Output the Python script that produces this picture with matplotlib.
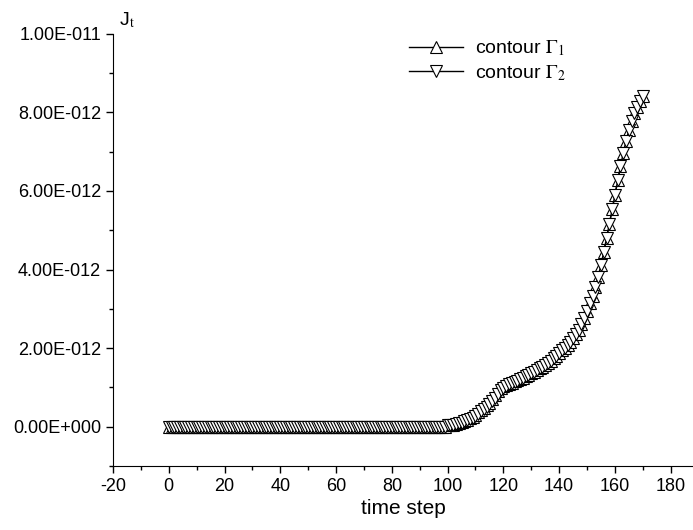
import numpy as np
import matplotlib
matplotlib.use("Agg")
import matplotlib.pyplot as plt
from matplotlib.ticker import MultipleLocator, FuncFormatter

plt.rcParams["font.family"] = ["Liberation Sans", "DejaVu Sans"]
plt.rcParams["mathtext.fontset"] = "stix"
plt.rcParams["axes.unicode_minus"] = False

# time steps 0..170, values in units of 1e-12
steps = np.arange(0, 171)

flat = [0.0] * 100
rise_g1 = [
    0.03, 0.04, 0.05, 0.07, 0.09, 0.11, 0.14, 0.17, 0.21, 0.25,
    0.30, 0.36, 0.42, 0.48, 0.54, 0.61, 0.70, 0.80, 0.90, 0.98,
    1.03, 1.06, 1.09, 1.12, 1.15, 1.18, 1.21, 1.24, 1.28, 1.32,
    1.36, 1.40, 1.44, 1.48, 1.53, 1.58, 1.63, 1.68, 1.74, 1.80,
    1.87, 1.94, 2.01, 2.08, 2.16, 2.25, 2.35, 2.47, 2.61, 2.77,
    2.95, 3.14, 3.33, 3.55, 3.82, 4.12, 4.45, 4.80, 5.16, 5.53,
    5.90, 6.27, 6.63, 6.97, 7.28, 7.55, 7.78, 7.98, 8.15, 8.29,
    8.41,
]
rise_g2 = [
    0.03, 0.04, 0.05, 0.06, 0.08, 0.10, 0.13, 0.16, 0.19, 0.23,
    0.28, 0.33, 0.39, 0.45, 0.51, 0.57, 0.64, 0.73, 0.83, 0.92,
    0.99, 1.04, 1.08, 1.11, 1.14, 1.17, 1.21, 1.24, 1.28, 1.32,
    1.36, 1.40, 1.44, 1.48, 1.53, 1.58, 1.63, 1.68, 1.74, 1.80,
    1.87, 1.94, 2.01, 2.08, 2.16, 2.25, 2.35, 2.47, 2.61, 2.77,
    2.95, 3.14, 3.33, 3.55, 3.82, 4.12, 4.45, 4.80, 5.16, 5.53,
    5.90, 6.27, 6.63, 6.97, 7.28, 7.55, 7.78, 7.98, 8.15, 8.29,
    8.41,
]
jt_g1 = np.array(flat + rise_g1) * 1e-12
jt_g2 = np.array(flat + rise_g2) * 1e-12


def sci_fmt(v, pos):
    if abs(v) < 1e-20:
        return "0.00E+000"
    exp = int(np.floor(np.log10(abs(v))))
    mant = v / 10 ** exp
    sign = "-" if exp < 0 else "+"
    return f"{mant:.2f}E{sign}{abs(exp):03d}"


fig = plt.figure(figsize=(6.93, 5.3), dpi=100)
ax = fig.add_axes([0.163, 0.121, 0.837, 0.815])

ax.plot(steps, jt_g1, color="black", lw=1, marker="^", ms=8.5,
        mfc="white", mec="black", mew=0.8, label=r"contour $\Gamma_{1}$")
ax.plot(steps, jt_g2, color="black", lw=1, marker="v", ms=8.5,
        mfc="white", mec="black", mew=0.8, label=r"contour $\Gamma_{2}$")

ax.set_xlim(-20, 188)
ax.set_ylim(-1e-12, 1e-11)
ax.xaxis.set_major_locator(MultipleLocator(20))
ax.xaxis.set_minor_locator(MultipleLocator(10))
ax.yaxis.set_major_locator(MultipleLocator(2e-12))
ax.yaxis.set_minor_locator(MultipleLocator(1e-12))
ax.yaxis.set_major_formatter(FuncFormatter(sci_fmt))
ax.yaxis.get_offset_text().set_visible(False)

ax.spines["top"].set_visible(False)
ax.spines["right"].set_visible(False)
ax.tick_params(which="major", direction="out", length=5, width=1, labelsize=13)
ax.tick_params(which="minor", direction="out", length=3, width=1)

ax.set_xlabel("time step", fontsize=15, labelpad=3)
ax.text(0.024, 1.01, r"J$_{\rm t}$", transform=ax.transAxes, fontsize=14,
        ha="center", va="bottom")

ax.legend(loc="upper left", bbox_to_anchor=(0.48, 1.03), frameon=False,
          fontsize=14, handlelength=2.8, handletextpad=0.6, labelspacing=0.25)

fig.savefig("out.png", dpi=100)
